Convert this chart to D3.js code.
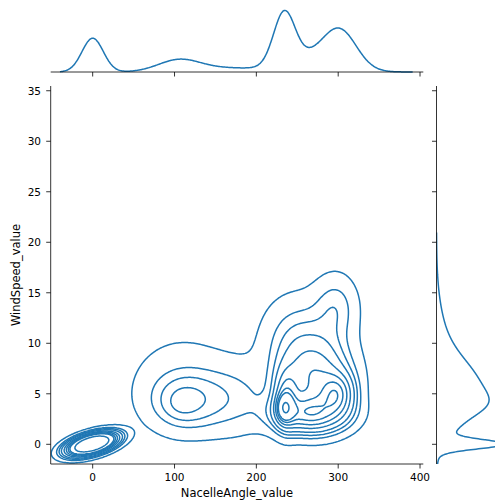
<!DOCTYPE html>
<html><head><meta charset="utf-8">
<script src="https://cdn.jsdelivr.net/npm/d3@7"></script>
<style>body{margin:0;background:#fff}svg{display:block}text{font-family:"DejaVu Sans",sans-serif;fill:#000}</style>
</head><body><svg id="c" width="495" height="503"></svg>
<script>
// 2-D density components
const compX   = [-1,   235,  236, 299,  265, 272, 297,  250, 175, 108,  115,  110 ];
const compY   = [0.03, 3.6,  4.5, 5.0,  3.0, 6.5, 13.5, 10.5,4.5, 4.0,  4.3,  6.0 ];
const compSX  = [17,   6,    9,   13,   28,  28,  18,   28,  28,  12,   28,   45  ];
const compSY  = [0.64, 0.8,  1.8, 1.3,  1.2, 2.6, 2.2,  2.8, 2.3, 0.9,  1.8,  3.4 ];
const compRho = [0.5,  0,    0,   0,    0,   0,   0,    0,   0,   0,    0,    0   ];
const compW   = [0.115,0.014,0.03,0.035,0.09,0.15,0.025,0.05,0.03,0.002,0.046,0.052];
// marginal NacelleAngle density components
const topMu = [0, 105, 160, 234, 270, 303];
const topSd = [13, 25, 45, 13, 33, 20];
const topW  = [0.159, 0.099, 0.065, 0.243, 0.190, 0.245];
// marginal WindSpeed density components
const rightMu = [0, 3.8, 5.5, 8, 1.3];
const rightSd = [0.45, 1.2, 2.5, 4, 1.2];
const rightW  = [0.147, 0.111, 0.437, 0.262, 0.043];
const xTicks = [0, 100, 200, 300, 400];
const yTicks = [0, 5, 10, 15, 20, 25, 30, 35];
const xLabel = "NacelleAngle_value";
const yLabel = "WindSpeed_value";
const levelProps = d3.range(10).map(i => 0.05 + i * (0.95 / 9));

const svg = d3.select("#c");
const color = "#1f77b4";
const main = {l: 50.7, r: 423.3, t: 86, b: 464};
const x = d3.scaleLinear([-51.3, 404], [main.l, main.r]);
const y = d3.scaleLinear([-1.95, 35.47], [main.b, main.t]);

function dens2(px, py) {
  let s = 0;
  for (let k = 0; k < compW.length; k++) {
    const dx = (px - compX[k]) / compSX[k], dy = (py - compY[k]) / compSY[k], r = compRho[k];
    const q = (dx*dx - 2*r*dx*dy + dy*dy) / (1 - r*r);
    s += compW[k] / (2*Math.PI*compSX[k]*compSY[k]*Math.sqrt(1-r*r)) * Math.exp(-q/2);
  }
  return s;
}
function mix1(v, mu, sd, w) { let s = 0; for (let k = 0; k < w.length; k++) { const d = (v-mu[k])/sd[k]; s += w[k]/(Math.sqrt(2*Math.PI)*sd[k])*Math.exp(-d*d/2);} return s; }

const nx = 300, ny = 300, gx0 = -75, gx1 = 430, gy0 = -4.5, gy1 = 38;
const ddx = (gx1-gx0)/(nx-1), ddy = (gy1-gy0)/(ny-1);
const values = new Float64Array(nx*ny);
for (let j = 0; j < ny; j++) for (let i = 0; i < nx; i++) values[j*nx+i] = dens2(gx0+i*ddx, gy0+j*ddy);
const sorted = Array.from(values).sort((a,b)=>b-a);
const total = d3.sum(sorted);
const cum = []; let acc = 0; for (const v of sorted) { acc += v; cum.push(acc/total); }
const levels = levelProps.map(p => { const idx = d3.bisectLeft(cum, 1-p); return sorted[Math.min(idx, sorted.length-1)]; });

const proj = d3.geoTransform({point(gx, gy) { this.stream.point(x(gx0+(gx-0.5)*ddx), y(gy0+(gy-0.5)*ddy)); }});
const path = d3.geoPath(proj);
const contours = d3.contours().size([nx, ny]).thresholds(levels)(values);

svg.append("clipPath").attr("id","mc").append("rect").attr("x",main.l).attr("y",main.t).attr("width",main.r-main.l).attr("height",main.b-main.t);
svg.append("g").attr("clip-path","url(#mc)").selectAll("path").data(contours).join("path")
  .attr("d", path).attr("fill","none").attr("stroke",color).attr("stroke-width",1.5).attr("stroke-linejoin","round");

const ax = svg.append("g");
ax.append("line").attr("x1",main.l).attr("x2",main.r).attr("y1",main.b).attr("y2",main.b).attr("stroke","#000").attr("stroke-width",0.8);
ax.append("line").attr("x1",main.l).attr("x2",main.l).attr("y1",main.t).attr("y2",main.b).attr("stroke","#000").attr("stroke-width",0.8);
xTicks.forEach(t => {
  ax.append("line").attr("x1",x(t)).attr("x2",x(t)).attr("y1",main.b).attr("y2",main.b+4.5).attr("stroke","#000").attr("stroke-width",0.8);
  ax.append("text").attr("x",x(t)).attr("y",481).attr("text-anchor","middle").attr("font-size",10.5).text(t);
});
yTicks.forEach(t => {
  ax.append("line").attr("x1",main.l-4.5).attr("x2",main.l).attr("y1",y(t)).attr("y2",y(t)).attr("stroke","#000").attr("stroke-width",0.8);
  ax.append("text").attr("x",41).attr("y",y(t)).attr("dy","0.36em").attr("text-anchor","end").attr("font-size",10.5).text(t);
});
ax.append("text").attr("x",(main.l+main.r)/2).attr("y",497).attr("text-anchor","middle").attr("font-size",11.5).text(xLabel);
ax.append("text").attr("transform",`translate(20,${(main.t+main.b)/2}) rotate(-90)`).attr("text-anchor","middle").attr("font-size",11.5).text(yLabel);

const topBase = 72;
const mx = d3.range(-40, 392, 1).map(v => [v, mix1(v, topMu, topSd, topW)]);
const mxMax = d3.max(mx, d => d[1]);
const ty = d3.scaleLinear([0, mxMax*1.05], [topBase, topBase-64.7]);
svg.append("path").attr("d", d3.line().x(d=>x(d[0])).y(d=>ty(d[1])).curve(d3.curveBasis)(mx)).attr("fill","none").attr("stroke",color).attr("stroke-width",1.5);
svg.append("line").attr("x1",main.l).attr("x2",main.r).attr("y1",topBase).attr("y2",topBase).attr("stroke","#000").attr("stroke-width",0.8);
xTicks.forEach(t => svg.append("line").attr("x1",x(t)).attr("x2",x(t)).attr("y1",topBase).attr("y2",topBase+4.5).attr("stroke","#000").attr("stroke-width",0.8));

const rBase = 436.5;
const my = d3.range(-1.95, 21, 0.03).map(v => [v, mix1(v, rightMu, rightSd, rightW)]);
const myMax = d3.max(my, d => d[1]);
const rx = d3.scaleLinear([0, myMax*1.05], [rBase, rBase+72]);
svg.append("clipPath").attr("id","rc").append("rect").attr("x",rBase).attr("y",main.t).attr("width",80).attr("height",main.b-main.t);
svg.append("path").attr("clip-path","url(#rc)").attr("d", d3.line().x(d=>rx(d[1])).y(d=>y(d[0])).curve(d3.curveBasis)(my)).attr("fill","none").attr("stroke",color).attr("stroke-width",1.5);
svg.append("line").attr("x1",rBase).attr("x2",rBase).attr("y1",main.t).attr("y2",main.b).attr("stroke","#000").attr("stroke-width",0.8);
yTicks.forEach(t => svg.append("line").attr("x1",rBase-4.5).attr("x2",rBase).attr("y1",y(t)).attr("y2",y(t)).attr("stroke","#000").attr("stroke-width",0.8));
</script></body></html>
